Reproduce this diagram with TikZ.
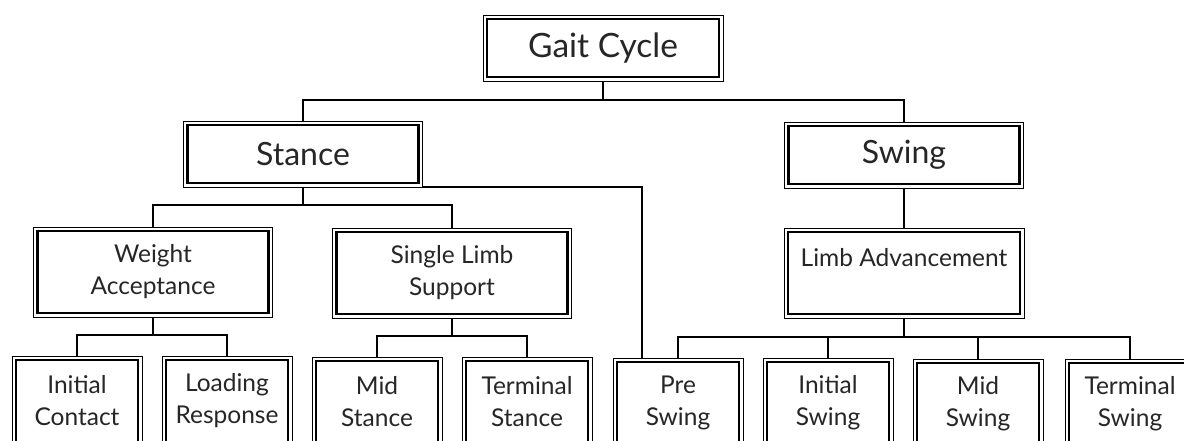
\documentclass[tikz,border=0pt]{standalone}
\usepackage{fontspec}
\setmainfont{Lato}
\begin{document}
\begin{tikzpicture}[x=1pt,y=-1pt,
  box/.style={draw, line width=2.2pt, outer sep=4pt, inner sep=0pt, align=center, text=black!85},
  big/.style={box, minimum width=231pt, minimum height=58pt, font=\fontsize{32}{34}\selectfont},
  midbox/.style={box, minimum width=231pt, minimum height=82pt, font=\fontsize{24.5}{32}\selectfont},
  leaf/.style={box, minimum width=122pt, minimum height=82pt, font=\fontsize{24.5}{32}\selectfont},
  conn/.style={line width=1.6pt},
  rim/.style={line width=0.8pt}]
\clip (0,0) rectangle (1184,441);
\fill[white] (0,0) rectangle (1184,441);
% top
\node[big, minimum width=232pt, font=\fontsize{33.5}{36}\selectfont] (gc) at (603,48) {Gait Cycle};
\node[big] (st) at (303,154) {Stance};
\node[big] (sw) at (904,155) {Swing};
% middle
\node[midbox] (wa) at (153,272) {Weight\\Acceptance};
\node[midbox] (sls) at (452,273) {Single Limb\\Support};
\node[midbox, minimum width=232pt] (la) at (904,273) {Limb Advancement\\\mbox{}};
% leaves
\node[leaf] (ic) at (77,401) {Initial\\Contact};
\node[leaf] (lr) at (227,401) {Loading\\Response};
\node[leaf] (ms) at (377,402) {Mid\\Stance};
\node[leaf] (ts) at (527,402) {Terminal\\Stance};
\node[leaf] (ps) at (678,403) {Pre\\Swing};
\node[leaf] (is) at (828,403) {Initial\\Swing};
\node[leaf] (msw) at (978,404) {Mid\\Swing};
\node[leaf] (tsw) at (1130,404) {Terminal\\Swing};
% outer thin rims
\foreach \n in {gc,st,sw,wa,sls,la,ic,lr,ms,ts,ps,is,msw,tsw}
  \draw[rim] (\n.north west) rectangle (\n.south east);
% connectors
\draw[conn] (gc.south) -- ++(0,19) -| (st.north);
\draw[conn] (gc.south) ++(0,19) -| (sw.north);
\draw[conn] (st.south) -- ++(0,18) -| (wa.north);
\draw[conn] (st.south) ++(0,18) -| (sls.north);
\draw[conn] (st.south east) -| ([xshift=-36pt]ps.north);
\draw[conn] (sw.south) -- (la.north);
\draw[conn] (wa.south) -- ++(0,18) -| (ic.north);
\draw[conn] (wa.south) ++(0,18) -| (lr.north);
\draw[conn] (sls.south) -- ++(0,18) -| (ms.north);
\draw[conn] (sls.south) ++(0,18) -| (ts.north);
\draw[conn] (la.south) -- ++(0,19) -| (ps.north);
\draw[conn] (la.south) ++(0,19) -| (is.north);
\draw[conn] (la.south) ++(0,19) -| (msw.north);
\draw[conn] (la.south) ++(0,19) -| (tsw.north);
\end{tikzpicture}
\end{document}
